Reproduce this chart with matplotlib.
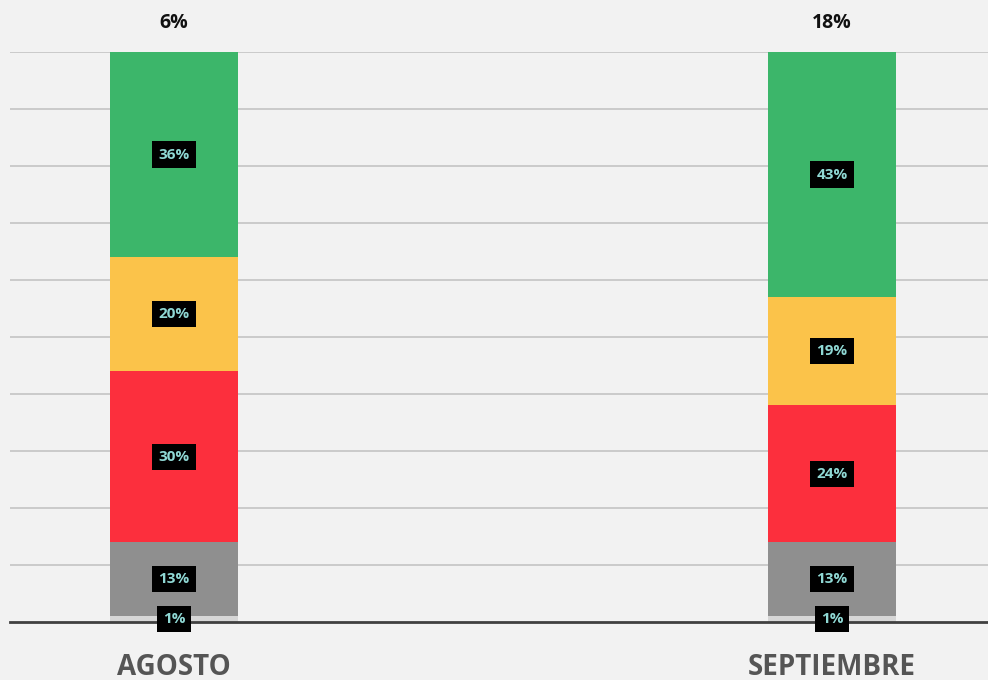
import matplotlib.pyplot as plt
import numpy as np

months = ["AGOSTO", "SEPTIEMBRE"]
top_labels = ["6%", "18%"]
# stacked segments, bottom to top (percent)
seg_lightgray = [1, 1]
seg_gray = [13, 13]
seg_red = [30, 24]
seg_yellow = [20, 19]
seg_green = [36, 43]

segments = [seg_lightgray, seg_gray, seg_red, seg_yellow, seg_green]
colors = ["#d6d6d6", "#8f8f8f", "#fc2f3d", "#fbc34a", "#3cb66a"]

plt.rcParams['font.family'] = ['Open Sans', 'DejaVu Sans']

fig = plt.figure(figsize=(9.88, 6.8), dpi=100, facecolor="#f2f2f2")
ax = fig.add_axes([10 / 988, 58 / 680, 978 / 988, 570 / 680])
ax.set_facecolor("#f2f2f2")

x = np.arange(len(months))
width = 0.1945
bottom = np.zeros(len(months))
for vals, col in zip(segments, colors):
    vals = np.array(vals, dtype=float)
    ax.bar(x, vals, width, bottom=bottom, color=col, zorder=3)
    for xi, b, v in zip(x, bottom, vals):
        ax.text(xi, b + v / 2, f"{int(v)}%", ha="center", va="center",
                fontsize=11, fontweight="bold", color="#8fd8d4", zorder=5,
                bbox=dict(boxstyle="square,pad=0.4", fc="black", ec="none"))
    bottom += vals

for xi, lab, tot in zip(x, top_labels, bottom):
    ax.annotate(lab, (xi, tot), xytext=(0, 21), textcoords="offset points",
                ha="center", va="center", fontsize=14, fontweight="bold",
                color="#111111")

ax.set_xlim(-0.2492, 1.2371)
ax.set_ylim(0, 100)
ax.set_yticks(np.arange(10, 101, 10))
ax.yaxis.grid(True, color="#c4c4c4", linewidth=1.2, zorder=0)
ax.tick_params(axis="y", left=False, labelleft=False)
ax.tick_params(axis="x", length=0, pad=22)
ax.set_xticks(x)
ax.set_xticklabels(months, fontsize=20, fontweight="bold", color="#555555")

for s in ["top", "right", "left"]:
    ax.spines[s].set_visible(False)
ax.spines["bottom"].set_color("#404040")
ax.spines["bottom"].set_linewidth(2)
ax.spines["bottom"].set_zorder(4)

fig.savefig("out.png", dpi=100, facecolor=fig.get_facecolor())
